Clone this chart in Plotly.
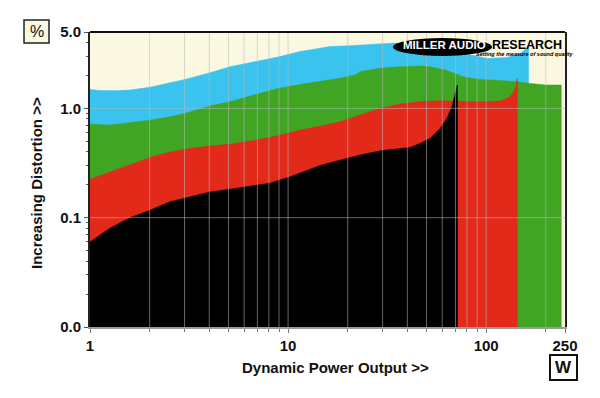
import plotly.graph_objects as go

# ---- data ----
POWER_CYAN = [1, 1.12, 1.34, 1.59, 2.01, 3.02, 4.04, 5.09, 7.06, 8.9, 11.5, 14.5, 16.3, 20.6, 29.2, 34.3, 46.4, 63.5, 80.2, 101.2, 127.6, 148.5, 161.1, 163.5]
THD_CYAN = [1.49, 1.46, 1.45, 1.47, 1.56, 1.84, 2.12, 2.40, 2.71, 2.95, 3.31, 3.57, 3.68, 3.74, 3.92, 3.96, 3.80, 3.42, 3.14, 2.86, 2.92, 3.18, 3.57, 3.80]

POWER_GREEN = [1, 1.26, 2.01, 2.54, 3.02, 4.04, 5.09, 7.06, 8.9, 11.5, 14.5, 18.3, 21.8, 23.1, 29.2, 36.8, 46.4, 52.1, 62.1, 69.7, 78.3, 93.3, 117.7, 143.4, 166.8, 198.6, 239.2]
THD_GREEN = [0.72, 0.703, 0.781, 0.838, 0.90, 1.05, 1.149, 1.343, 1.524, 1.652, 1.752, 1.883, 2.018, 2.164, 2.325, 2.404, 2.44, 2.404, 2.242, 2.092, 1.922, 1.843, 1.798, 1.752, 1.694, 1.635, 1.635]

POWER_RED = [1, 1.59, 2.01, 2.54, 3.2, 4.04, 5.09, 6.43, 8.11, 10.2, 11.5, 14.5, 18.3, 23.1, 29.2, 36.8, 46.4, 58.6, 73.9, 93.3, 117.7, 129.1, 136.9, 141.8, 143.4]
THD_RED = [0.224, 0.304, 0.356, 0.400, 0.430, 0.452, 0.471, 0.502, 0.543, 0.598, 0.633, 0.688, 0.754, 0.868, 1.00, 1.095, 1.149, 1.174, 1.149, 1.142, 1.166, 1.243, 1.381, 1.60, 1.88]

POWER_BLACK = [1, 1.12, 1.26, 1.59, 2.01, 2.54, 3.2, 4.04, 5.09, 6.43, 8.11, 10.2, 11.5, 14.5, 18.3, 23.1, 29.2, 36.8, 41.3, 46.4, 52.1, 58.6, 63.3, 67.1, 69.7, 71.6]
THD_BLACK = [0.060, 0.069, 0.080, 0.100, 0.117, 0.140, 0.155, 0.172, 0.182, 0.194, 0.207, 0.236, 0.257, 0.300, 0.336, 0.374, 0.409, 0.430, 0.439, 0.478, 0.531, 0.656, 0.810, 1.03, 1.37, 1.64]

X_TICKS = [1, 10, 100, 250]
X_TICK_TEXT = ["1", "10", "100", "250"]
Y_TICKS = [0.01, 0.1, 1, 5]
Y_TICK_TEXT = ["0.0", "0.1", "1.0", "5.0"]
X_MIN, X_MAX = 1, 250
Y_MIN, Y_MAX = 0.01, 5

CREAM = "#FBF8E2"
CYAN = "#3AC3EE"
GREEN = "#40A522"
RED = "#E2291A"
BLACK = "#000000"
FONT = "Liberation Sans, Arial, sans-serif"


def area(xs, ys, color):
    px = list(xs) + [xs[-1], xs[0], xs[0]]
    py = list(ys) + [Y_MIN, Y_MIN, ys[0]]
    return go.Scatter(x=px, y=py, fill="toself", fillcolor=color, mode="lines",
                      line=dict(width=0.6, color=color), hoverinfo="skip",
                      showlegend=False)


def log_steps(lo, hi, mults):
    out = []
    d = 1e-3
    while d <= hi:
        for m in mults:
            v = round(m * d, 6)
            if lo <= v <= hi:
                out.append(v)
        d *= 10
    return out


fig = go.Figure()
fig.add_trace(area(POWER_CYAN, THD_CYAN, CYAN))
fig.add_trace(area(POWER_GREEN, THD_GREEN, GREEN))
fig.add_trace(area(POWER_RED, THD_RED, RED))
fig.add_trace(area(POWER_BLACK, THD_BLACK, BLACK))

# grid drawn above the fills
gx, gy = [], []
for v in log_steps(X_MIN * 1.01, X_MAX * 0.99, range(1, 10)):
    gx += [v, v, None]
    gy += [Y_MIN, Y_MAX, None]
for v in [0.1, 1]:
    gx += [X_MIN, X_MAX, None]
    gy += [v, v, None]
fig.add_trace(go.Scatter(x=gx, y=gy, mode="lines",
                         line=dict(color="rgba(185,185,185,0.55)", width=1),
                         hoverinfo="skip", showlegend=False))

tickfont = dict(family=FONT, size=15, color="#111", weight="bold")

fig.update_layout(
    width=600, height=398,
    margin=dict(l=90, r=35, t=32, b=71),
    paper_bgcolor="white",
    plot_bgcolor=CREAM,
    showlegend=False,
    xaxis=dict(type="log", range=[0, 2.39794], tickmode="array",
               tickvals=X_TICKS, ticktext=X_TICK_TEXT, tickfont=tickfont,
               ticks="outside", ticklen=4, tickcolor="#777", showgrid=False,
               zeroline=False, showline=True, linecolor="#9a9a9a", linewidth=2,
               minor=dict(tickmode="array", tickvals=log_steps(1.5, 249, range(2, 10)),
                          ticks="outside", ticklen=3, tickcolor="#777", showgrid=False)),
    yaxis=dict(type="log", range=[-2, 0.69897], tickmode="array",
               tickvals=Y_TICKS, ticktext=Y_TICK_TEXT, tickfont=tickfont,
               ticks="outside", ticklen=4, tickcolor="#555", showgrid=False,
               zeroline=False, showline=True, linecolor="#222", linewidth=2,
               mirror=True,
               minor=dict(tickmode="array", tickvals=log_steps(0.015, 4.5, range(2, 10)),
                          ticks="outside", ticklen=2, tickcolor="#555", showgrid=False)),
)

P2X = lambda px: (px - 90) / 475.0
P2Y = lambda py: (327 - py) / 295.0

shapes = [
    # top border
    dict(type="line", xref="paper", yref="paper", x0=0, x1=1, y0=1, y1=1,
         line=dict(color="#111", width=2), layer="above"),
    # logo ellipse
    dict(type="circle", xref="paper", yref="paper", x0=P2X(393), x1=P2X(492),
         y0=P2Y(56), y1=P2Y(38), fillcolor="black", line=dict(width=0), layer="above"),
    # % box
    dict(type="rect", xref="paper", yref="paper", x0=P2X(24), x1=P2X(49),
         y0=P2Y(43), y1=P2Y(20), fillcolor=CREAM, line=dict(color="#222", width=1.5)),
    # W box
    dict(type="rect", xref="paper", yref="paper", x0=P2X(550), x1=P2X(577),
         y0=P2Y(380), y1=P2Y(355), fillcolor="white", line=dict(color="#111", width=2)),
]
fig.update_layout(shapes=shapes)

ann = [
    dict(text="%", x=P2X(36.5), y=P2Y(31.5), font=dict(family=FONT, size=16, color="#111")),
    dict(text="W", x=P2X(563.5), y=P2Y(367.5), font=dict(family=FONT, size=17, color="#111", weight="bold")),
    dict(text="Dynamic Power Output >>", x=P2X(335), y=P2Y(367),
         font=dict(family=FONT, size=15, color="#111", weight="bold")),
    dict(text="Increasing Distortion >>", x=P2X(37), y=P2Y(183), textangle=-90,
         font=dict(family=FONT, size=15, color="#111", weight="bold")),
    dict(text="MILLER AUDIO", x=P2X(444), y=P2Y(45),
         font=dict(family=FONT, size=11.5, color="white", weight="bold")),
    dict(text="RESEARCH", x=P2X(527), y=P2Y(45),
         font=dict(family=FONT, size=12.5, color="black", weight="bold")),
    dict(text="<i>Setting the measure of sound quality</i>", x=P2X(525), y=P2Y(54),
         font=dict(family=FONT, size=5.5, color="black", weight="bold")),
]
for a in ann:
    a.update(xref="paper", yref="paper", showarrow=False, xanchor="center", yanchor="middle")
fig.update_layout(annotations=ann)

fig.write_html("out.html", config={"displayModeBar": False},
               post_script="document.body.style.margin='0px';document.body.style.padding='0px';")
